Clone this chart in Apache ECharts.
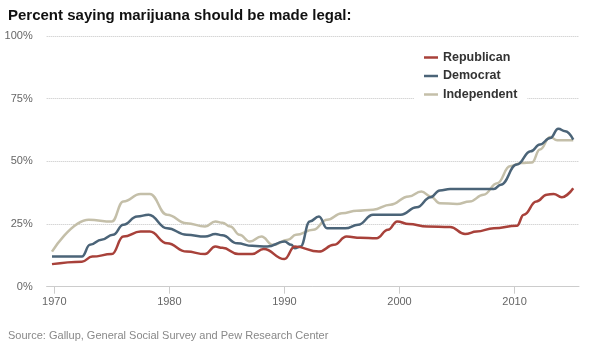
<!DOCTYPE html>
<html>
<head>
<meta charset="utf-8">
<script src="https://cdn.jsdelivr.net/npm/echarts@6/dist/echarts.min.js"></script>
<style>
  html, body { margin: 0; padding: 0; background: #fff; }
  #chart { width: 589px; height: 353px; }
</style>
</head>
<body>
<div id="chart"></div>
<script>
// readings: [year, percent]
var republican = [
  [1969.8, 9], [1972.4, 10], [1973.3, 12], [1975, 13], [1976, 20], [1977.5, 22], [1978.3, 22],
  [1979.8, 17.3], [1981.5, 14], [1983.1, 13], [1984, 16], [1984.6, 15.5], [1986, 13],
  [1987.2, 13], [1988.2, 15], [1990, 11], [1990.9, 16], [1993, 14], [1994.3, 16.7],
  [1995.4, 20], [1996.6, 19.5], [1998, 19.3], [1999, 22.7], [1999.8, 26], [2000.8, 25],
  [2002.4, 24], [2004.4, 23.8], [2005.7, 21], [2006.7, 22], [2008.2, 23.3], [2010.2, 24.3],
  [2010.8, 28.7], [2011.9, 34], [2012.8, 36.7], [2013.4, 37], [2014.1, 35.7], [2015.1, 39.3]
];
var democrat = [
  [1969.8, 12], [1972.4, 12], [1973.1, 16.7], [1974.1, 18.7], [1975.1, 20.7], [1976, 24.7],
  [1977.2, 28], [1978.2, 28.7], [1979.8, 23.3], [1981.5, 20.7], [1983.1, 20], [1984, 21],
  [1984.6, 20.5], [1985.9, 17.3], [1987.2, 16.3], [1988.5, 16], [1990, 18], [1990.6, 16.7],
  [1990.9, 15.3], [1991.4, 16], [1992.2, 26], [1993, 28], [1993.7, 23.3], [1995.3, 23.3],
  [1996.4, 24.7], [1997.7, 28.7], [2000.1, 28.7], [2001.5, 31.7], [2002.7, 35.7],
  [2003.5, 38.4], [2004.4, 39], [2008.2, 39], [2008.8, 40.7], [2010.2, 48.7], [2011.4, 54],
  [2012.2, 56.7], [2013.1, 59.3], [2013.8, 63], [2014.4, 62], [2015.1, 58.7]
];
var independent = [
  [1969.8, 14], [1973, 26.7], [1975, 26], [1976, 34], [1977.5, 37], [1978.3, 37],
  [1979.8, 28.7], [1981.5, 25.3], [1983.1, 24], [1984, 26], [1984.6, 25.5], [1985.3, 24],
  [1986.1, 20.7], [1987, 18], [1988, 20], [1989, 16.7], [1990.3, 18.7], [1991, 20.7],
  [1992.5, 22.7], [1993.7, 26.7], [1995, 29.3], [1996.3, 30.3], [1997.7, 30.7],
  [1999.2, 32.7], [2000.8, 36], [2001.9, 38], [2002.7, 36], [2003.5, 33.3], [2005, 33],
  [2006.1, 34], [2007.3, 36.7], [2008.5, 41.3], [2009.6, 48], [2010.6, 49.3], [2011.5, 49.5],
  [2012.2, 54.7], [2013.1, 59.7], [2013.7, 58.4], [2015.1, 58.4]
];
var yearTicks = [1970, 1980, 1990, 2000, 2010];
var seriesNames = ['Republican', 'Democrat', 'Independent'];

var font = "'Liberation Sans', Arial, sans-serif";
var myChart = echarts.init(document.getElementById('chart'));

function lineSeries(name, data, color) {
  return {
    name: name,
    type: 'line',
    data: data,
    smooth: 0.45,
    smoothMonotone: 'x',
    showSymbol: false,
    symbol: 'none',
    lineStyle: { color: color, width: 2.5 },
    itemStyle: { color: color }
  };
}

var option = {
  animation: false,
  title: {
    text: 'Percent saying marijuana should be made legal:',
    left: 3,
    top: 3,
    textStyle: { fontFamily: font, fontSize: 15, fontWeight: 'bold', color: '#111' }
  },
  legend: {
    data: seriesNames,
    orient: 'vertical',
    left: 414,
    top: 45,
    padding: [6, 10, 6, 10],
    backgroundColor: '#fff',
    icon: 'rect',
    itemWidth: 14,
    itemHeight: 2.5,
    itemGap: 5.5,
    textStyle: { fontFamily: font, fontSize: 12.5, fontWeight: 'bold', color: '#333' }
  },
  grid: { left: 46.7, right: 10, top: 36, bottom: 66.3 },
  xAxis: {
    type: 'value',
    min: 1969.34,
    max: 2015.6,
    axisLine: { lineStyle: { color: '#ccc', width: 1 } },
    axisTick: { customValues: yearTicks, length: 7, lineStyle: { color: '#ccc' } },
    axisLabel: {
      customValues: yearTicks,
      margin: 10,
      color: '#666',
      fontSize: 11,
      fontFamily: font,
      formatter: function (v) { return String(v); }
    },
    splitLine: { show: false }
  },
  yAxis: {
    type: 'value',
    min: 0,
    max: 100,
    interval: 25,
    axisLine: { show: false },
    axisTick: { show: false },
    axisLabel: {
      margin: 14,
      color: '#666',
      fontSize: 11,
      fontFamily: font,
      formatter: '{value}%'
    },
    splitLine: { lineStyle: { type: 'dotted', color: '#c4c4c4', width: 1 } }
  },
  graphic: [{
    type: 'text',
    left: 8,
    top: 330,
    style: {
      text: 'Source: Gallup, General Social Survey and Pew Research Center',
      fill: '#888',
      font: '11px ' + font
    }
  }],
  series: [
    lineSeries('Independent', independent, '#c4bfa9'),
    lineSeries('Democrat', democrat, '#4b6478'),
    lineSeries('Republican', republican, '#a8413a')
  ]
};
myChart.setOption(option);
</script>
</body>
</html>
